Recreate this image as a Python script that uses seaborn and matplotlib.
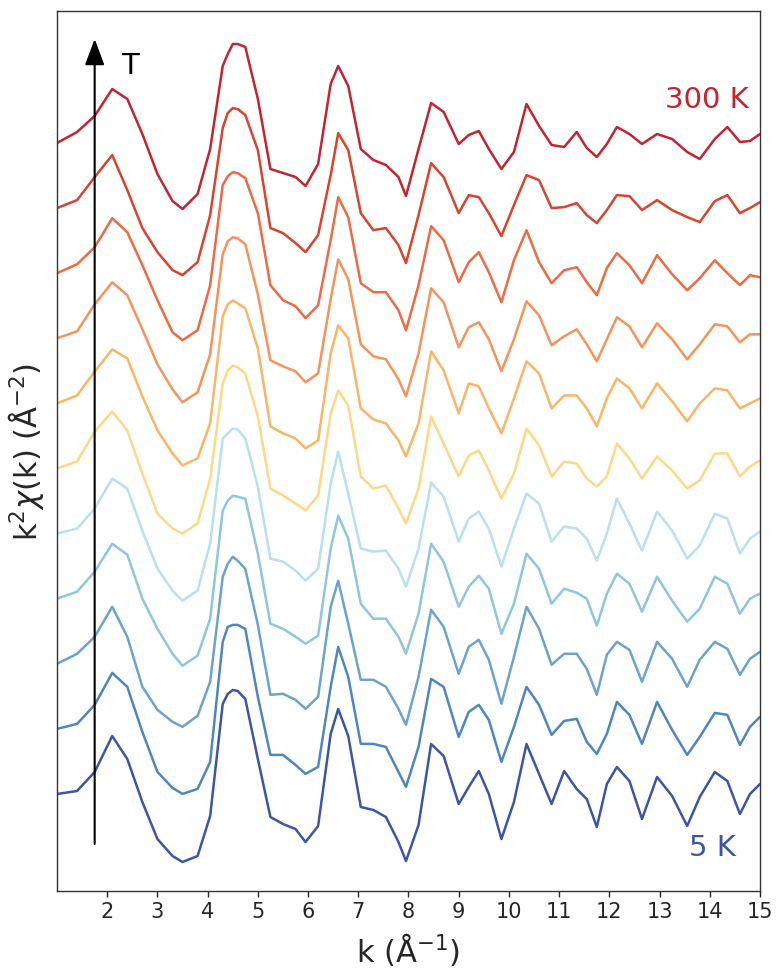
import numpy as np
import pandas as pd
import matplotlib
matplotlib.use("Agg")
import matplotlib.pyplot as plt
import seaborn as sns

# ---------------- data ----------------
k = [1.0, 1.4, 1.75, 2.1, 2.4, 2.7, 3.0, 3.3, 3.5, 3.8,
     4.05, 4.3, 4.4, 4.5, 4.6, 4.75, 5.0, 5.25, 5.5, 5.75, 5.95, 6.2,
     6.45, 6.6, 6.8, 7.05, 7.3, 7.55, 7.8, 7.95, 8.2, 8.45,
     8.7, 9.0, 9.2, 9.4, 9.6, 9.85, 10.1, 10.35, 10.6, 10.85,
     11.1, 11.35, 11.55, 11.75, 11.95, 12.15, 12.4, 12.65, 12.95, 13.25,
     13.55, 13.8, 14.1, 14.35, 14.6, 14.8, 15.0]

# k^2 chi(k), each curve relative to its own baseline (bottom = 5 K, top = 300 K)
chi_c00 = [0, 3, 22, 58, 35, -8, -45, -62, -68, -62, -22, 90, 100, 104, 103, 95, 35, -23, -30, -35, -48, -32,
           60, 85, 58, -13, -16, -23, -48, -67, -31, 50, 38, -10, 7, 23, 0, -45, -8, 50, 20, -10,
           23, 5, -5, -33, 10, 27, 13, -25, 17, -2, -32, -3, 22, 13, -20, 0, 10]
chi_c01 = [0, 5, 24, 56, 42, -3, -43, -59, -65, -60, -33, 87, 102, 104, 104, 100, 32, -26, -26, -36, -45, -38,
           42, 82, 52, -15, -15, -18, -43, -58, -18, 50, 42, -8, 17, 24, 9, -33, 2, 42, 24, -6,
           8, 10, -13, -25, -5, 27, 14, -15, 27, -1, -26, -8, 16, 14, -16, 2, 12]
chi_c02 = [0, 10, 27, 57, 27, -23, -46, -58, -63, -52, -18, 87, 100, 107, 103, 95, 39, -31, -30, -36, -45, -33,
           57, 83, 40, -16, -16, -23, -45, -61, -13, 54, 37, -10, 17, 24, 4, -40, 7, 57, 35, -1,
           10, 10, -5, -31, 9, 22, 14, -18, 22, 5, -23, 4, 22, 15, -11, 5, 12]
chi_c03 = [0, 7, 27, 55, 44, 0, -30, -55, -67, -57, -20, 88, 98, 103, 102, 100, 45, -25, -30, -38, -45, -37,
           50, 83, 60, -5, -20, -20, -38, -55, -15, 55, 37, -8, 12, 23, 10, -35, -5, 45, 30, -5,
           10, 6, 0, -27, 5, 25, 15, -13, 22, -2, -23, -10, 22, 15, -15, 0, 5]
chi_c04 = [0, 5, 25, 55, 45, 3, -35, -57, -67, -57, -10, 95, 100, 105, 104, 95, 47, -25, -28, -37, -47, -35,
           50, 82, 40, -15, -18, -17, -35, -53, -15, 51, 37, -8, 15, 22, 5, -33, 5, 40, 30, -8,
           7, 5, -5, -27, 0, 35, 10, -17, 22, 3, -25, -12, 20, 15, -20, -5, 2]
chi_c05 = [0, 7, 37, 57, 38, -5, -45, -60, -65, -55, -10, 85, 98, 103, 101, 95, 52, -20, -27, -35, -42, -27,
           55, 78, 63, -8, -20, -17, -40, -55, -20, 52, 25, -8, 13, 18, -2, -30, -5, 40, 23, -8,
           7, 5, -10, -18, -8, 25, 10, -10, 12, -2, -20, -12, 15, 15, -8, 2, 8]
chi_c06 = [0, 8, 32, 54, 45, 7, -27, -50, -62, -55, -20, 87, 99, 103, 100, 95, 55, -23, -30, -35, -45, -37,
           50, 78, 65, -5, -16, -20, -37, -53, -20, 52, 33, -10, 20, 17, -5, -30, 5, 42, 30, -5,
           8, 8, -5, -23, 5, 25, 15, -5, 20, 2, -18, 0, 15, 13, -5, 0, 5]
chi_c07 = [0, 7, 34, 56, 43, 9, -26, -51, -64, -54, -16, 84, 97, 101, 100, 94, 44, -22, -28, -33, -44, -35,
           39, 79, 59, -6, -18, -21, -41, -58, -15, 50, 36, -9, 11, 16, -1, -33, -1, 37, 23, -7,
           2, 9, -6, -23, -1, 21, 12, -9, 15, -1, -21, -6, 14, 12, -4, 4, 4]
chi_c08 = [0, 9, 26, 55, 41, 8, -27, -59, -67, -57, -12, 88, 97, 101, 100, 95, 60, -12, -27, -33, -45, -32,
           33, 76, 56, -10, -19, -19, -37, -57, -12, 47, 33, -9, 11, 21, 1, -29, 13, 43, 11, -10,
           3, 6, -9, -22, 5, 20, 8, -10, 18, -1, -17, -5, 13, 0, -12, -2, -4]
chi_c09 = [0, 8, 31, 53, 18, -20, -44, -62, -67, -54, -7, 80, 95, 100, 99, 93, 58, -20, -25, -35, -44, -27,
           33, 75, 58, -5, -22, -20, -37, -55, -7, 45, 31, -5, 13, 11, -5, -28, 3, 33, 28, 0,
           1, 5, -7, -15, -2, 13, 12, -2, 8, -2, -9, -14, 7, 13, -5, 0, 6]
chi_c10 = [0, 11, 27, 54, 44, 9, -31, -58, -66, -51, -6, 77, 89, 99, 99, 96, 44, -26, -30, -34, -43, -21,
           59, 77, 57, -6, -17, -22, -34, -53, -6, 40, 31, -1, 8, 12, -6, -26, -9, 39, 17, -2,
           -4, 11, -5, -14, -1, 16, 9, -1, 9, 4, -9, -16, 4, 16, 1, 2, 9]

curve_ids = ["c00", "c01", "c02", "c03", "c04", "c05", "c06", "c07", "c08", "c09", "c10"]
curve_colors = ["#3b56a5", "#4f86c0", "#6ba3cd", "#90c5df", "#b9e0ee", "#fdd987",
                "#fbb566", "#f7935a", "#ef6a44", "#d9432f", "#c4242f"]
label_low = "5 K"
label_high = "300 K"
xtick_values = [2, 3, 4, 5, 6, 7, 8, 9, 10, 11, 12, 13, 14, 15]

series = [chi_c00, chi_c01, chi_c02, chi_c03, chi_c04, chi_c05,
          chi_c06, chi_c07, chi_c08, chi_c09, chi_c10]

# ---------------- figure ----------------
sns.set_style("ticks")
plt.rcParams['font.family'] = ['DejaVu Sans']

SPACING = 65.1
frames = []
for i, (cid, vals) in enumerate(zip(curve_ids, series)):
    frames.append(pd.DataFrame({"k": k,
                                "chi": np.asarray(vals, float) + i * SPACING,
                                "curve": cid}))
df = pd.concat(frames, ignore_index=True)

fig = plt.figure(figsize=(7.77, 9.70), dpi=100)
ax = fig.add_axes([57 / 777, 1 - 892 / 970, 703 / 777, 880 / 970])

sns.lineplot(data=df, x="k", y="chi", hue="curve", hue_order=curve_ids,
             palette=curve_colors, sort=False, estimator=None,
             linewidth=1.8, legend=False, ax=ax)

ax.set_xlim(1.0, 15.0)
ax.set_ylim(-97, 783)
ax.set_xticks(xtick_values)
ax.set_yticks([])
ax.tick_params(axis="x", labelsize=15, length=4, width=1, direction="out")
ax.set_xlabel("k (Å$^{-1}$)", fontsize=22, labelpad=6)
ax.set_ylabel("k$^2\\chi$(k) (Å$^{-2}$)", fontsize=22, labelpad=8)
for sp in ax.spines.values():
    sp.set_visible(True)
    sp.set_color("#333333")
    sp.set_linewidth(1.0)

# temperature arrow
ax.annotate("", xy=(1.75, 755), xytext=(1.75, -50),
            arrowprops=dict(arrowstyle="-|>,head_length=0.8,head_width=0.3",
                            color="black", lw=1.5, mutation_scale=20,
                            shrinkA=0, shrinkB=0))
ax.text(2.46, 729, "T", fontsize=21, ha="center", va="center", color="black")

ax.text(13.95, 695, label_high, fontsize=21, ha="center", va="center",
        color=curve_colors[-1])
ax.text(14.05, -53, label_low, fontsize=21, ha="center", va="center",
        color=curve_colors[0])

fig.savefig("out.png", dpi=100)
